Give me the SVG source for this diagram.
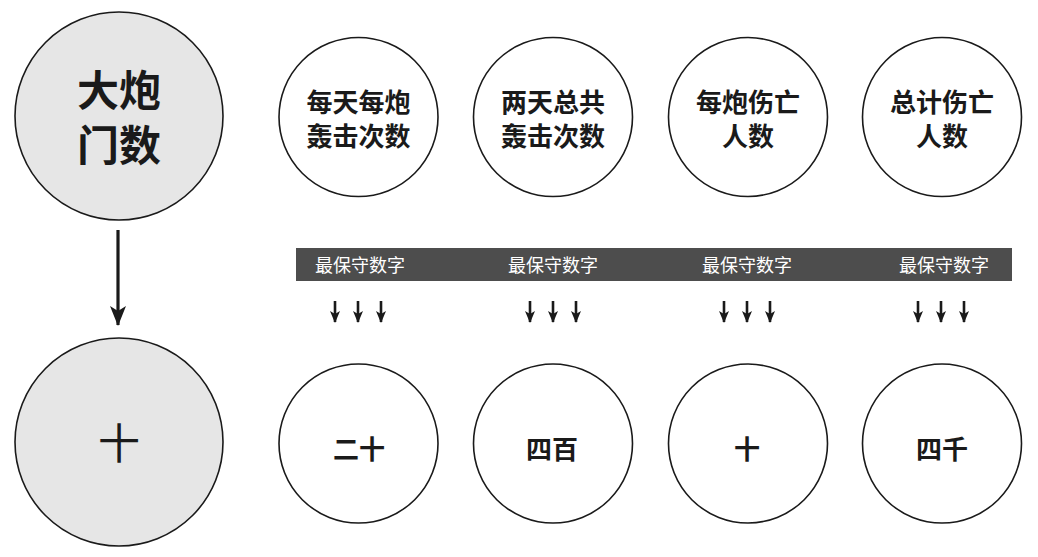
<svg xmlns="http://www.w3.org/2000/svg" width="1038" height="557" viewBox="0 0 1038 557">
<style>
.big{fill:#e6e6e6;stroke:#1a1a1a;stroke-width:1.6}
.sm{fill:#ffffff;stroke:#1a1a1a;stroke-width:1.6}
.t{font-family:"Noto Sans CJK SC","Noto Sans CJK JP",sans-serif;font-weight:bold;fill:#1a1a1a;text-anchor:middle;dominant-baseline:central}
.bt{font-size:42px}
.st{font-size:26px}
.lb{font-family:"Noto Sans CJK SC",sans-serif;font-size:18px;fill:#ffffff;text-anchor:middle;dominant-baseline:central}
.ar{stroke:#1a1a1a;stroke-width:3.2;fill:none}
.as{stroke:#1a1a1a;stroke-width:2.6;fill:none}
</style>
<defs>
<marker id="ah" viewBox="0 0 20 16" refX="19" refY="8" markerWidth="20" markerHeight="16" orient="auto" markerUnits="userSpaceOnUse">
<path d="M0,0 L20,8 L0,16 L5,8 z" fill="#1a1a1a"/>
</marker>
<marker id="ahs" viewBox="0 0 12 10" refX="11" refY="5" markerWidth="12" markerHeight="10" orient="auto" markerUnits="userSpaceOnUse">
<path d="M0,0 L12,5 L0,10 L3,5 z" fill="#1a1a1a"/>
</marker>
</defs>
<rect width="1038" height="557" fill="#ffffff"/>
<g id="n-cannons">
<circle class="big" cx="119" cy="116" r="104"/>
<text class="t bt" x="119" y="87">大炮</text>
<text class="t bt" x="119" y="142">门数</text>
</g>
<g id="n-ten-big">
<circle class="big" cx="119" cy="442" r="104"/>
<text class="t bt" x="119" y="440" style="font-weight:normal">十</text>
</g>
<g id="n-daily">
<circle class="sm" cx="358.5" cy="117" r="79.5"/>
<text class="t st" x="358.5" y="100">每天每炮</text>
<text class="t st" x="358.5" y="134">轰击次数</text>
</g>
<g id="n-total">
<circle class="sm" cx="553" cy="117" r="79.5"/>
<text class="t st" x="553" y="100">两天总共</text>
<text class="t st" x="553" y="134">轰击次数</text>
</g>
<g id="n-percannon">
<circle class="sm" cx="748" cy="117" r="79.5"/>
<text class="t st" x="748" y="100">每炮伤亡</text>
<text class="t st" x="748" y="134">人数</text>
</g>
<g id="n-casualties">
<circle class="sm" cx="942" cy="117" r="79.5"/>
<text class="t st" x="942" y="100">总计伤亡</text>
<text class="t st" x="942" y="134">人数</text>
</g>
<g id="n-bar">
<rect x="296" y="248" width="716" height="33" fill="#4d4d4d"/>
<text class="lb" x="360" y="264">最保守数字</text>
<text class="lb" x="553" y="264">最保守数字</text>
<text class="lb" x="747" y="264">最保守数字</text>
<text class="lb" x="944" y="264">最保守数字</text>
</g>
<g id="n-twenty">
<circle class="sm" cx="358.5" cy="443.5" r="79.5"/>
<text class="t st" x="359" y="447">二十</text>
</g>
<g id="n-fourhundred">
<circle class="sm" cx="553" cy="443.5" r="79.5"/>
<text class="t st" x="552" y="447">四百</text>
</g>
<g id="n-ten">
<circle class="sm" cx="748" cy="443.5" r="79.5"/>
<text class="t st" x="747" y="447">十</text>
</g>
<g id="n-fourthousand">
<circle class="sm" cx="942" cy="443.5" r="79.5"/>
<text class="t st" x="942" y="447">四千</text>
</g>
<g id="connectors">
<line class="ar" x1="118" y1="230" x2="118" y2="325" marker-end="url(#ah)"/>
<line class="as" x1="335" y1="301" x2="335" y2="322" marker-end="url(#ahs)"/>
<line class="as" x1="358" y1="301" x2="358" y2="322" marker-end="url(#ahs)"/>
<line class="as" x1="381" y1="301" x2="381" y2="322" marker-end="url(#ahs)"/>
<line class="as" x1="530" y1="301" x2="530" y2="322" marker-end="url(#ahs)"/>
<line class="as" x1="553" y1="301" x2="553" y2="322" marker-end="url(#ahs)"/>
<line class="as" x1="576" y1="301" x2="576" y2="322" marker-end="url(#ahs)"/>
<line class="as" x1="724" y1="301" x2="724" y2="322" marker-end="url(#ahs)"/>
<line class="as" x1="747" y1="301" x2="747" y2="322" marker-end="url(#ahs)"/>
<line class="as" x1="770" y1="301" x2="770" y2="322" marker-end="url(#ahs)"/>
<line class="as" x1="918" y1="301" x2="918" y2="322" marker-end="url(#ahs)"/>
<line class="as" x1="941" y1="301" x2="941" y2="322" marker-end="url(#ahs)"/>
<line class="as" x1="964" y1="301" x2="964" y2="322" marker-end="url(#ahs)"/>
</g>
</svg>
